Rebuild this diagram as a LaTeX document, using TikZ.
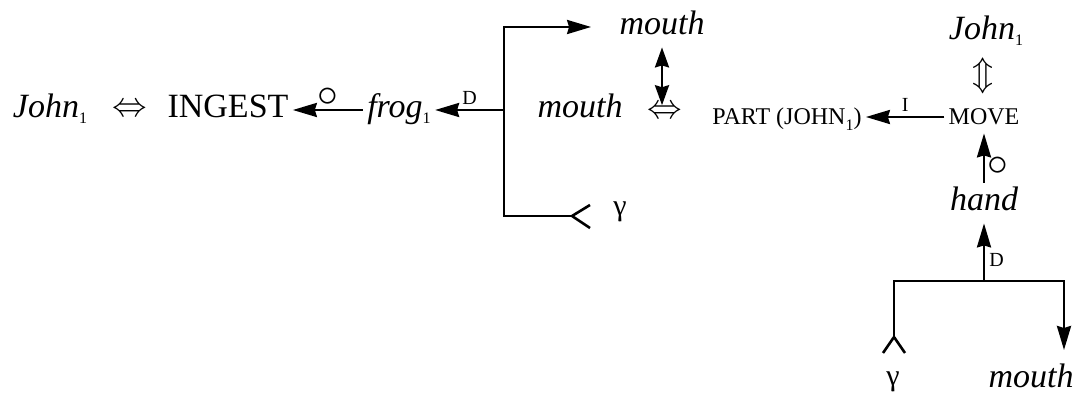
\documentclass[tikz,border=0pt]{standalone}
\usepackage{fontspec}
\setmainfont{Liberation Serif}
\usepackage{tikz}
\usetikzlibrary{arrows.meta,positioning,calc}
\newcommand{\idx}[1]{\raisebox{-3pt}{\upshape\fontsize{8}{8}\selectfont #1}}
\tikzstyle{concept} = [inner sep=2pt, text height=12pt, text depth=4pt, font=\fontsize{17}{20}\selectfont\itshape]
\tikzstyle{bigprim} = [inner sep=2pt, text height=12pt, text depth=4pt, font=\fontsize{17}{20}\selectfont]
\tikzstyle{prim} = [inner sep=2pt, text height=8pt, text depth=0pt, font=\fontsize{12}{14}\selectfont]
\tikzstyle{link} = [inner sep=0pt, font=\fontsize{17}{20}\selectfont]
\tikzstyle{greek} = [inner sep=1pt, font=\fontsize{15}{17}\selectfont]
\tikzstyle{tag} = [inner sep=2pt, font=\fontsize{10}{12}\selectfont]
\tikzstyle{ring} = [inner sep=1pt, font=\fontsize{20}{20}\selectfont]
\tikzstyle{branch} = [line width=1.3pt]
\tikzstyle{arrow} = [line width=1.3pt, -{Stealth[length=12pt,width=7pt,inset=1pt]}]
\tikzstyle{darrow} = [line width=1.3pt, {Stealth[length=10pt,width=7pt,inset=1pt]}-{Stealth[length=10pt,width=7pt,inset=1pt]}]

\begin{document}
\begin{tikzpicture}[x=0.5pt, y=-0.5pt]
\useasboundingbox (0,0) rectangle (1083,394);

% Left conceptualization
\node [concept] (johnL) at (50,110) {John\idx{1}};
\node [link] (eqL) at (130,110) {$\Leftrightarrow$};
\node [bigprim] (ingest) at (228,110) {INGEST};
\node [concept] (frog) at (399,110) {frog\idx{1}};

% Direction fork
\coordinate (br) at (504,110);
\coordinate (fork) at (572,216);
\node [concept] (mtop) at (662,27) {mouth};
\node [greek] (gtop) at (620,212) {γ};

% Instrument conceptualization
\node [concept] (mmid) at (580,110) {mouth};
\node [link] (eqM) at (665,112) {$\Leftrightarrow$};
\node [prim] (part) at (787,117) {PART (JOHN\idx{1})};
\node [prim] (move) at (984,117) {MOVE};
\node [concept] (johnT) at (986,32) {John\idx{1}};
\node [link] (eqV) at (983,76) {$\Updownarrow$};
\node [concept] (hand) at (984,203) {hand};

% Lower fork
\coordinate (hb) at (984,281);
\coordinate (lfork) at (894,337);
\coordinate (rtip) at (1064,350);
\node [greek] (gbot) at (893,382) {γ};
\node [concept, inner sep=0pt, text depth=0pt] (mbot) at (1031,376) {mouth};

% Arrows
\draw [arrow] (frog) -- node[ring, above] {$\circ$} (ingest);
\draw [arrow] (br) -- node[tag, above] {D} (frog);
\draw [arrow, shorten >=12pt] (fork) -| (br) |- (mtop);
\draw [branch] (fork) -- ++(18,-11) (fork) -- ++(18,12);
\draw [darrow] (mtop) -- (mtop |- eqM.north);
\draw [arrow] (move) -- node[tag, above] {I} (part);
\draw [arrow, shorten >=2pt] (hand) -- node[ring, right, pos=0.3] {$\circ$} (move);
\draw [arrow] (hb) -- node[tag, right, yshift=-4pt] {D} (hand);
\draw [branch] (lfork) |- (hb);
\draw [arrow] (hb) -| (rtip);
\draw [branch] (lfork) -- ++(-11,16) (lfork) -- ++(11,16);

\end{tikzpicture}
\end{document}
